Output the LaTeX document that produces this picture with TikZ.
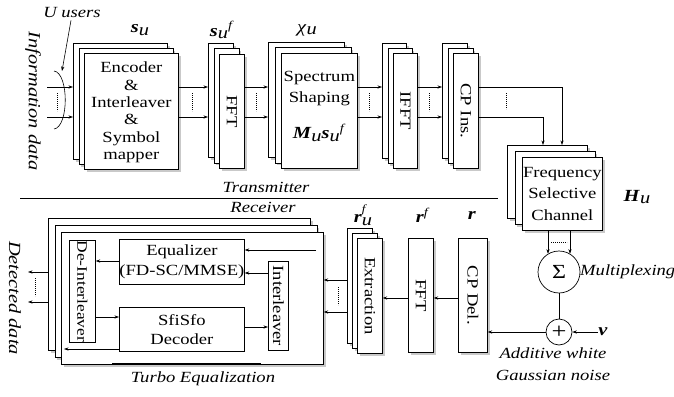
\documentclass[tikz,border=0pt]{standalone}
\usepackage{fontspec}
\setmainfont{Liberation Serif}[FakeStretch=1.2]
\usetikzlibrary{shadows,arrows.meta,calc}
\newcommand{\lsub}[1]{\raisebox{-0.3ex}{\textit{#1}}}
\newcommand{\bi}[1]{\textbf{\textit{#1}}}
\newcommand{\tribox}[7]{%
 \node[box,anchor=north west,minimum width=#4pt,minimum height=#5pt] (#1A) at (#2,#3) {};
 \node[box,anchor=north west,minimum width=#4pt,minimum height=#5pt] (#1B) at ($(#2,#3)+(#6,#7)$) {};
 \node[box,anchor=north west,minimum width=#4pt,minimum height=#5pt] (#1C) at ($(#2,#3)+2*(#6,#7)$) {};
}
\begin{document}
\begin{tikzpicture}[x=1pt,y=-1pt,
 font=\fontsize{15.5}{17.3}\selectfont,
 box/.style={draw, line width=0.7pt, fill=white, inner sep=0pt,
   drop shadow={shadow xshift=2.5pt,shadow yshift=-2.5pt,opacity=0.3,fill=black!70}},
 ibox/.style={draw, line width=0.7pt, fill=white, inner sep=0pt, anchor=north west},
 arr/.style={-{Stealth[length=4.5pt,width=3.2pt]}, line width=0.6pt},
 ln/.style={line width=0.6pt},
 dots/.style={line width=0.7pt, dash pattern=on 0.7pt off 1.3pt},
 lbl/.style={font=\fontsize{17}{20}\selectfont, inner sep=0pt},
 ital/.style={font=\fontsize{15.5}{20}\selectfont\itshape, inner sep=0pt},
 rot/.style={rotate=-90, inner sep=0pt},
]
\useasboundingbox (0,0) rectangle (674,396);
% y levels
\coordinate (ya) at (0,87);
\coordinate (yb) at (0,117);
\coordinate (yc) at (0,298);
\coordinate (yd) at (0,280);
\coordinate (ye) at (0,312);
\coordinate (yq) at (0,250);
\coordinate (yr) at (0,273);
\coordinate (ys) at (0,261);
\coordinate (yt) at (0,317);
\coordinate (yu) at (0,327);

% ---------- transmitter stacks
\tribox{enc}{73}{43}{94}{116}{5.5}{5}
\node[align=center, inner sep=0pt] (encT) at ($(encC.center)+(0,1)$) {Encoder\\\&\\Interleaver\\\&\\Symbol\\mapper};
\tribox{ffa}{208}{43}{25}{114}{5.5}{5.5}
\node[rot] (ffaT) at (ffaC.center) {FFT};
\tribox{spc}{268}{42}{76}{115}{6.5}{5.5}
\node[align=center, inner sep=0pt, font=\fontsize{15.5}{21}\selectfont] (spcT) at ($(spcC.center)+(0,-22)$) {Spectrum\\Shaping};
\node[lbl] (spcM) at ($(spcC.center)+(0,22)$) {\bi{M}\lsub{u}\bi{s}\lsub{u}\textsuperscript{\textit{f}}};
\tribox{ifa}{382}{43}{24}{115}{5.5}{5}
\node[rot] (ifaT) at (ifaC.center) {IFFT};
\tribox{cpi}{442}{43}{25}{115}{5.5}{5}
\node[rot] (cpiT) at (cpiC.center) {CP Ins.};
\tribox{chn}{507}{145}{80}{73}{7.5}{6}
\node[align=center, inner sep=0pt, font=\fontsize{15.5}{21.5}\selectfont] (chnT) at (chnC.center) {Frequency\\Selective\\Channel};

% labels
\node[lbl] (lsu) at (140,30) {\bi{s}\lsub{u}};
\node[lbl] (lsuf) at (222,30) {\bi{s}\lsub{u}\textsuperscript{\textit{f}}};
\node[lbl] (lchi) at (307,30) {\textit{χ}\lsub{u}};
\node[lbl] (lhu) at (637,197) {\bi{H}\lsub{u}};
\node[ital] (uu) at (72,13) {U users};
\node[ital, rotate=-90, font=\fontsize{17}{20}\selectfont\itshape] (info) at (33,101) {Information data};

% input ring and arrows
\coordinate (in1) at (47,87);
\coordinate (in2) at (47,117);
\coordinate (ringtop) at (62,71);
\draw[arr] (in1) -- (encA.west |- in1);
\draw[arr] (in2) -- (encA.west |- in2);
\draw[ln] (54,71) .. controls (69,73) and (69,127) .. (54,129);
\draw[arr] (uu.south) ++(-1,2) -- (ringtop);
\draw[dots] (57,93) -- (57,111);

% transmitter arrows
\draw[arr] (encC.east |- ya) -- (ffaA.west |- ya);
\draw[arr] (encC.east |- yb) -- (ffaA.west |- yb);
\draw[dots] (192,93) -- (192,111);
\draw[arr] (ffaC.east |- ya) -- (spcA.west |- ya);
\draw[arr] (ffaC.east |- yb) -- (spcA.west |- yb);
\draw[dots] (256,93) -- (256,111);
\draw[arr] (spcC.east |- ya) -- (ifaA.west |- ya);
\draw[arr] (spcC.east |- yb) -- (ifaA.west |- yb);
\draw[dots] (369,93) -- (369,111);
\draw[arr] (ifaC.east |- ya) -- (cpiA.west |- ya);
\draw[arr] (ifaC.east |- yb) -- (cpiA.west |- yb);
\draw[dots] (429,93) -- (429,111);
\coordinate (c1) at (562,0);
\coordinate (c2) at (543,0);
\draw[arr] (cpiC.east |- ya) -| (c1 |- chnA.north);
\draw[arr] (cpiC.east |- yb) -| (c2 |- chnA.north);
\draw[dots] (506,93) -- (506,109);

% separator
\draw[line width=0.9pt] (20,198) -- (498,198);
\node[ital] (tx) at (266,187) {Transmitter};
\node[ital] (rx) at (263,207) {Receiver};

% ---------- channel / noise
\node[draw, circle, minimum size=42pt, inner sep=0pt, line width=0.7pt] (sig) at (559,272) {\fontsize{20}{20}\selectfont Σ};
\node[draw, circle, minimum size=26pt, inner sep=0pt, line width=0.7pt] (plus) at (559,332) {\fontsize{22}{22}\selectfont +};
\draw[arr] (chnC.south -| sig.121) -- (sig.121);
\draw[arr] (chnC.south -| sig.59) -- (sig.59);
\draw[dots] (551,242) -- (567,242);
\node[ital, anchor=west] (mux) at (580,272) {Multiplexing};
\node[lbl] (vv) at (603,332) {\bi{v}};
\draw[arr] (vv.west) -- (plus.east);
\draw[ln] (sig.south) -- (plus.north);
\node[ital, align=center] (awgn) at (553,364) {Additive white\\[2pt]Gaussian noise};

% ---------- receiver
\node[box, anchor=north west, minimum width=29pt, minimum height=114pt] (cpd) at (458,238) {};
\node[rot] (cpdT) at (cpd.center) {CP Del.};
\node[box, anchor=north west, minimum width=25pt, minimum height=114pt] (ffr) at (408,238) {};
\node[rot] (ffrT) at (ffr.center) {FFT};
\tribox{ext}{347}{228}{25}{115}{5}{5}
\node[rot] (extT) at (extC.center) {Extraction};
\node[lbl] (lr) at (472,215) {\bi{r}};
\node[lbl] (lrf) at (423,215) {\bi{r}\textsuperscript{\textit{f}}};
\node[lbl] (lruf) at (363,215) {\bi{r}\makebox[0pt][l]{\raisebox{1.3ex}{\fontsize{11}{11}\selectfont\textit{f}}}\lsub{u}};

\draw[arr] (plus.west) -- (cpd.east |- plus.west);
\draw[arr] (cpd.west |- yc) -- (ffr.east |- yc);
\draw[arr] (ffr.west |- yc) -- (extC.east |- yc);

% turbo
\tribox{tur}{48}{218}{262}{132}{6.5}{7}
\draw[line width=1.8pt] (112,364) -- (261,364);
\node[ital] (turbo) at (203,379) {Turbo Equalization};
\draw[arr] (extA.west |- yd) -- (turC.east |- yd);
\draw[arr] (extA.west |- ye) -- (turC.east |- ye);
\draw[dots] (338,287) -- (338,305);

\node[ibox, minimum width=26pt, minimum height=102pt] (dei) at (69,240) {};
\node[rot, font=\fontsize{14.5}{16}\selectfont] (deiT) at (dei.center) {De-Interleaver};
\node[ibox, minimum width=125pt, minimum height=45pt, align=center] (eq) at (119,239) {Equalizer\\[2pt](FD-SC/MMSE)};
\node[ibox, minimum width=125pt, minimum height=44pt, align=center] (dec) at (119,307) {SfiSfo\\[2pt]Decoder};
\node[ibox, minimum width=20pt, minimum height=89pt] (itl) at (268,261) {};
\node[rot] (itlT) at (itl.center) {Interleaver};

\coordinate (q1) at (316,250);
\coordinate (dl) at (64,349);
\draw[arr] (q1) -- (eq.east |- q1);
\draw[arr] (itl.west |- yr) -- (eq.east |- yr);
\draw[arr] (eq.west |- ys) -- (dei.east |- ys);
\draw[arr] (dei.east |- yt) -- (dec.west |- yt);
\draw[arr] (dec.east |- yu) -- (itl.west |- yu);
\draw[arr] (dec.west |- dl) -- (dl);

% outputs
\coordinate (od1) at (28,272);
\coordinate (od2) at (28,302);
\draw[arr] (turA.west |- od1) -- (od1);
\draw[arr] (turA.west |- od2) -- (od2);
\draw[dots] (35,278) -- (35,296);
\node[ital, rotate=-90, font=\fontsize{17}{20}\selectfont\itshape] (det) at (15,298) {Detected data};
\end{tikzpicture}
\end{document}
